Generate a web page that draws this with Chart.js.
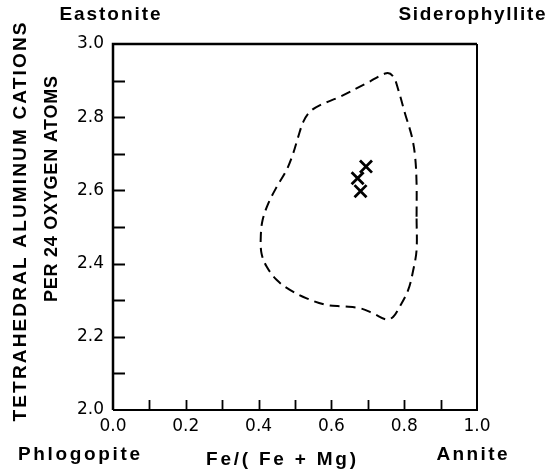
<!DOCTYPE html>
<html>
<head>
<meta charset="utf-8">
<script src="https://cdn.jsdelivr.net/npm/chart.js@4"></script>
<style>
  html, body { margin: 0; padding: 0; background: #fff; }
  #wrap { width: 550px; height: 473px; }
</style>
</head>
<body>
<div id="wrap"><canvas id="c" width="550" height="473"></canvas></div>
<script>
// ---- data ----
const contourX = [0.834, 0.834, 0.830, 0.821, 0.802, 0.784, 0.770, 0.751, 0.697, 0.624, 0.569, 0.541, 0.523, 0.509, 0.495, 0.477, 0.450, 0.427, 0.411, 0.406, 0.408, 0.422, 0.450, 0.486, 0.532, 0.587, 0.633, 0.679, 0.715, 0.752, 0.770, 0.788, 0.811, 0.825, 0.834, 0.834];
const contourY = [2.528, 2.619, 2.692, 2.747, 2.811, 2.874, 2.911, 2.920, 2.893, 2.856, 2.833, 2.815, 2.788, 2.747, 2.701, 2.656, 2.610, 2.565, 2.519, 2.474, 2.428, 2.392, 2.355, 2.328, 2.305, 2.287, 2.283, 2.278, 2.264, 2.247, 2.255, 2.283, 2.328, 2.383, 2.437, 2.528];
const sampleX = [0.695, 0.672, 0.680];
const sampleY = [2.665, 2.633, 2.598];
const xTickLabels = ['0.0', '0.2', '0.4', '0.6', '0.8', '1.0'];
const yTickLabels = ['2.0', '2.2', '2.4', '2.6', '2.8', '3.0'];
const xMinorTicks = [0.1, 0.2, 0.3, 0.4, 0.5, 0.6, 0.7, 0.8, 0.9];
const yMinorTicks = [2.1, 2.2, 2.3, 2.4, 2.5, 2.6, 2.7, 2.8, 2.9];
const xTitle = 'Fe/( Fe + Mg)';
const yTitleLine1 = 'TETRAHEDRAL ALUMINUM CATIONS';
const yTitleLine2 = 'PER 24 OXYGEN ATOMS';
const cornerLabels = ['Eastonite', 'Siderophyllite', 'Phlogopite', 'Annite'];

const contourPts = contourX.map((x, i) => ({ x: x, y: contourY[i] }));
const samplePts = sampleX.map((x, i) => ({ x: x, y: sampleY[i] }));

function fitText(ctx, text, cx, cy, width, font) {
  ctx.font = font;
  ctx.letterSpacing = '0px';
  const w = ctx.measureText(text).width;
  const ls = text.length > 1 ? (width - w) / (text.length - 1) : 0;
  ctx.letterSpacing = ls + 'px';
  ctx.textAlign = 'left';
  ctx.textBaseline = 'middle';
  ctx.fillText(text, cx - width / 2, cy);
  ctx.letterSpacing = '0px';
}

const decor = {
  id: 'decor',
  afterDraw(chart) {
    const ctx = chart.ctx;
    const a = chart.chartArea;
    const xs = chart.scales.x, ys = chart.scales.y;
    ctx.save();
    ctx.strokeStyle = '#000';
    ctx.fillStyle = '#000';
    // frame
    ctx.lineWidth = 2.5;
    ctx.beginPath();
    ctx.moveTo(a.left, a.bottom);
    ctx.lineTo(a.left, a.top);
    ctx.lineTo(a.right, a.top);
    ctx.stroke();
    ctx.lineWidth = 2;
    ctx.beginPath();
    ctx.moveTo(a.right, a.top);
    ctx.lineTo(a.right, a.bottom);
    ctx.lineTo(a.left, a.bottom);
    ctx.stroke();
    // inward ticks
    ctx.lineWidth = 1.8;
    ctx.beginPath();
    yMinorTicks.forEach(v => {
      const p = Math.round(ys.getPixelForValue(v)) + 0.5;
      ctx.moveTo(a.left, p); ctx.lineTo(a.left + 12, p);
    });
    xMinorTicks.forEach(v => {
      const p = Math.round(xs.getPixelForValue(v)) + 0.5;
      ctx.moveTo(p, a.bottom); ctx.lineTo(p, a.bottom - 10);
    });
    ctx.stroke();
    // texts
    const bold = 'bold 19px "Liberation Sans", Arial, sans-serif';
    fitText(ctx, cornerLabels[0], 110, 15, 101, bold);
    fitText(ctx, cornerLabels[1], 472, 15, 147, bold);
    fitText(ctx, cornerLabels[2], 79, 455, 122, bold);
    fitText(ctx, cornerLabels[3], 472, 455, 71, bold);
    fitText(ctx, xTitle, 281, 460, 150, bold);
    ctx.save();
    ctx.translate(21, 222);
    ctx.rotate(-Math.PI / 2);
    fitText(ctx, yTitleLine1, 0, 0, 399, bold);
    ctx.restore();
    ctx.save();
    ctx.translate(52, 189);
    ctx.rotate(-Math.PI / 2);
    fitText(ctx, yTitleLine2, 0, 0, 226, 'bold 18px "Liberation Sans", Arial, sans-serif');
    ctx.restore();
    ctx.restore();
  }
};

new Chart(document.getElementById('c'), {
  type: 'scatter',
  data: {
    datasets: [
      {
        label: 'field',
        data: contourPts,
        showLine: true,
        borderColor: '#000',
        borderWidth: 2,
        borderDash: [10, 6],
        tension: 0.35,
        pointRadius: 0,
        fill: false
      },
      {
        label: 'samples',
        data: samplePts,
        pointStyle: 'crossRot',
        pointRadius: 8.5,
        pointBorderWidth: 2.8,
        borderColor: '#000',
        backgroundColor: '#000'
      }
    ]
  },
  options: {
    responsive: false,
    animation: false,
    devicePixelRatio: 1,
    layout: { padding: { top: 44, right: 73, left: 0, bottom: 0 } },
    plugins: { legend: { display: false }, tooltip: { enabled: false }, title: { display: false } },
    scales: {
      x: {
        type: 'linear', min: 0, max: 1,
        afterFit(s) { s.height = 63; },
        border: { display: false },
        grid: { display: false, drawTicks: false },
        ticks: {
          stepSize: 0.2, padding: 6, color: '#000',
          font: { family: '"DejaVu Sans", sans-serif', size: 17 },
          maxRotation: 0,
          callback: (v) => { const i = Math.round(v / 0.2); return Math.abs(v - i * 0.2) < 1e-6 ? xTickLabels[i] : null; }
        }
      },
      y: {
        type: 'linear', min: 2, max: 3,
        afterFit(s) { s.width = 113; },
        border: { display: false },
        grid: { display: false, drawTicks: false },
        ticks: {
          stepSize: 0.2, padding: 9, color: '#000',
          font: { family: '"DejaVu Sans", sans-serif', size: 17 },
          callback: (v) => { const i = Math.round((v - 2) / 0.2); return Math.abs(v - 2 - i * 0.2) < 1e-6 ? yTickLabels[i] : null; }
        }
      }
    }
  },
  plugins: [decor]
});
</script>
</body>
</html>
